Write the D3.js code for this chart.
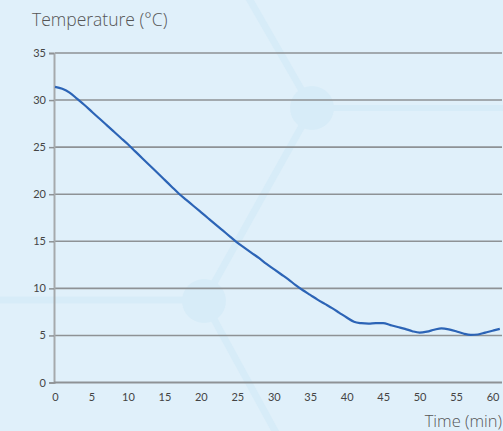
<!DOCTYPE html>
<html><head><meta charset="utf-8">
<script src="https://cdn.jsdelivr.net/npm/d3@7"></script>
<style>html,body{margin:0;padding:0;background:#e0f0fa;overflow:hidden}svg{display:block}</style>
</head><body>
<script>
const times = [0,1,2,3,4,5,6,7,8,9,10,11,12,13,14,15,16,17,18,19,20,21,22,23,24,25,26,27,28,29,30,31,32,33,34,35,36,37,38,39,40,41,42,43,44,45,46,47,48,49,50,51,52,53,54,55,56,57,58,59,60,61];
const temps = [31.4,31.2,30.8,30.15,29.5,28.8,28.1,27.4,26.7,26.0,25.3,24.55,23.8,23.05,22.3,21.55,20.8,20.05,19.4,18.75,18.1,17.45,16.8,16.15,15.5,14.85,14.3,13.75,13.2,12.6,12.05,11.5,10.95,10.35,9.8,9.3,8.8,8.35,7.9,7.4,6.9,6.45,6.3,6.25,6.3,6.3,6.1,5.9,5.7,5.45,5.3,5.4,5.6,5.75,5.65,5.45,5.2,5.05,5.1,5.3,5.5,5.7];
const xTicks = [0,5,10,15,20,25,30,35,40,45,50,55,60];
const yTicks = [0,5,10,15,20,25,30,35];
const yTitle = "Temperature (°C)";
const xTitle = "Time (min)";

const W = 503, H = 431;
const svg = d3.select("body").append("svg").attr("width", W).attr("height", H);
svg.append("rect").attr("width", W).attr("height", H).attr("fill", "#e0f0fa");

// decorative background molecule
const decoCol = "#d7ecf8";
const deco = svg.append("g").attr("fill", "none").attr("stroke", decoCol).attr("stroke-linecap", "round");
deco.append("path").attr("d", "M247,-5 L312,108 L204,301 L280,440").attr("stroke-width", 7);
deco.append("path").attr("d", "M312,108 L510,108").attr("stroke-width", 6);
deco.append("path").attr("d", "M204,300 L-10,300").attr("stroke-width", 7);
deco.append("circle").attr("cx", 312).attr("cy", 108).attr("r", 22).attr("fill", decoCol).attr("stroke", "none");
deco.append("circle").attr("cx", 204).attr("cy", 301).attr("r", 22).attr("fill", decoCol).attr("stroke", "none");

const x = d3.scaleLinear().domain([0, 61.3]).range([55, 502]);
const y = d3.scaleLinear().domain([0, 35]).range([382.5, 53]);

// grid lines
svg.append("g").selectAll("line").data(yTicks.filter(d => d > 0)).join("line")
  .attr("x1", x(0)).attr("x2", x(61.3))
  .attr("y1", d => y(d)).attr("y2", d => y(d))
  .attr("stroke", "#8e9295").attr("stroke-width", 1.6);

// y axis
const yAxis = svg.append("g").attr("transform", `translate(${x(0) - 1},0)`)
  .call(d3.axisLeft(y).tickValues(yTicks).tickSize(5).tickPadding(3));
yAxis.select(".domain").attr("stroke", "#a5a9ac").attr("stroke-width", 2);
yAxis.selectAll(".tick line").attr("stroke", "#8e9295").attr("stroke-width", 1.5);
yAxis.selectAll("text").attr("fill", "#444").style("font-family", "Lato, 'Open Sans', sans-serif").style("font-size", "11px");

// x axis
const xAxis = svg.append("g").attr("transform", `translate(0,${y(0)})`)
  .call(d3.axisBottom(x).tickValues(xTicks).tickSize(0).tickPadding(11));
xAxis.select(".domain").attr("stroke", "#8e9295").attr("stroke-width", 1.8).attr("d", `M${x(0)-1},0H${x(61.3)}`);
xAxis.selectAll("text").attr("fill", "#444").style("font-family", "Lato, 'Open Sans', sans-serif").style("font-size", "11px");

// line
const line = d3.line().x((d, i) => x(times[i])).y(d => y(d)).curve(d3.curveMonotoneX);
svg.append("path").datum(temps).attr("d", line)
  .attr("fill", "none").attr("stroke", "#2c64b6").attr("stroke-width", 2.2).attr("stroke-linejoin", "round");

// titles
svg.append("text").attr("x", 32).attr("y", 26).text(yTitle)
  .attr("fill", "#555").style("font-family", "'Open Sans', sans-serif").style("font-weight", 300).style("font-size", "17.5px");
svg.append("text").attr("x", 502).attr("y", 427).attr("text-anchor", "end").text(xTitle)
  .attr("fill", "#555").style("font-family", "'Open Sans', sans-serif").style("font-weight", 300).style("font-size", "16.5px");
</script>
</body></html>
